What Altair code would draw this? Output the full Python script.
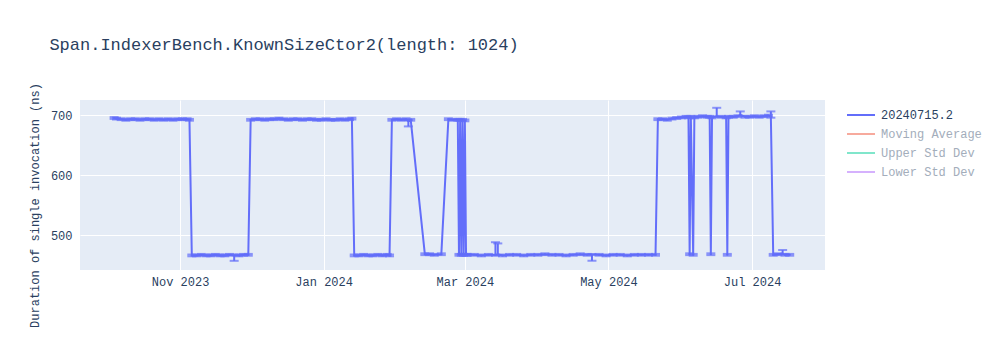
import altair as alt
import pandas as pd

series_name = "20240715.2"
legend_names = ["20240715.2", "Moving Average", "Upper Std Dev", "Lower Std Dev"]
legend_colors = ["#636efa", "#f7aa9d", "#80e6cb", "#d5b1fd"]

dates = [
    # high plateau Oct-Nov 2023
    "2023-10-04", "2023-10-05", "2023-10-07", "2023-10-09", "2023-10-11", "2023-10-13",
    "2023-10-15", "2023-10-17", "2023-10-19", "2023-10-21", "2023-10-23", "2023-10-25",
    "2023-10-27", "2023-10-29", "2023-10-31", "2023-11-02", "2023-11-04", "2023-11-05",
    # low Nov 2023
    "2023-11-06", "2023-11-08", "2023-11-10", "2023-11-12", "2023-11-14", "2023-11-16",
    "2023-11-18", "2023-11-20", "2023-11-22", "2023-11-24", "2023-11-26", "2023-11-28",
    "2023-11-30",
    # high Dec 2023 - Jan 2024
    "2023-12-01", "2023-12-03", "2023-12-05", "2023-12-07", "2023-12-09", "2023-12-11",
    "2023-12-13", "2023-12-15", "2023-12-17", "2023-12-19", "2023-12-21", "2023-12-23",
    "2023-12-25", "2023-12-27", "2023-12-29", "2023-12-31", "2024-01-02", "2024-01-04",
    "2024-01-06", "2024-01-08", "2024-01-10", "2024-01-12", "2024-01-13",
    # low Jan 2024
    "2024-01-14", "2024-01-16", "2024-01-18", "2024-01-20", "2024-01-22", "2024-01-24",
    "2024-01-26", "2024-01-28", "2024-01-29",
    # high early Feb
    "2024-01-30", "2024-02-01", "2024-02-03", "2024-02-05", "2024-02-06", "2024-02-07",
    # low mid Feb
    "2024-02-13", "2024-02-15", "2024-02-17", "2024-02-20",
    # high late Feb with oscillations
    "2024-02-23", "2024-02-25", "2024-02-27", "2024-02-27T12:00:00Z", "2024-02-28",
    "2024-02-28T12:00:00Z", "2024-02-29", "2024-02-29T12:00:00Z", "2024-03-01",
    "2024-03-01T12:00:00Z",
    # low Mar - May
    "2024-03-02", "2024-03-05", "2024-03-08", "2024-03-11", "2024-03-14", "2024-03-15",
    "2024-03-17", "2024-03-20", "2024-03-23", "2024-03-26", "2024-03-29", "2024-04-01",
    "2024-04-04", "2024-04-07", "2024-04-10", "2024-04-13", "2024-04-16", "2024-04-19",
    "2024-04-22", "2024-04-24", "2024-04-27", "2024-04-30", "2024-05-03", "2024-05-06",
    "2024-05-09", "2024-05-12", "2024-05-15", "2024-05-18", "2024-05-21",
    # high May - Jul with drops
    "2024-05-22", "2024-05-24", "2024-05-26", "2024-05-28", "2024-05-30", "2024-06-01",
    "2024-06-03", "2024-06-04", "2024-06-04T12:00:00Z", "2024-06-05", "2024-06-06",
    "2024-06-06T12:00:00Z", "2024-06-08", "2024-06-10", "2024-06-12", "2024-06-13",
    "2024-06-13T12:00:00Z", "2024-06-14", "2024-06-16", "2024-06-18", "2024-06-20",
    "2024-06-20T12:00:00Z", "2024-06-21", "2024-06-23", "2024-06-25", "2024-06-26",
    "2024-06-28", "2024-06-30", "2024-07-02", "2024-07-04", "2024-07-06", "2024-07-08",
    "2024-07-09",
    # low Jul
    "2024-07-10", "2024-07-12", "2024-07-14", "2024-07-15", "2024-07-17",
]

values = [
    695, 694, 693, 692, 693, 693, 692, 693, 693, 692, 693, 692, 693, 692, 693, 693, 693, 692,
    466, 466, 467, 466, 466, 467, 466, 466, 467, 466, 466, 467, 467,
    692, 693, 693, 692, 693, 693, 694, 693, 692, 693, 693, 692, 693, 693, 692, 692, 693, 692,
    692, 693, 692, 693, 694,
    466, 466, 467, 466, 466, 467, 466, 467, 466,
    692, 693, 692, 693, 690, 692,
    468, 468, 467, 468,
    693, 692, 692, 467, 692, 467, 692, 467, 691, 467,
    467, 467, 466, 467, 467, 468, 466, 467, 467, 466, 467, 467, 468, 467, 467, 466, 467, 468,
    467, 467, 467, 466, 467, 467, 466, 467, 467, 467, 467,
    693, 693, 692, 694, 695, 696, 697, 696, 468, 697, 467, 696, 697, 698, 697, 697, 468, 696,
    698, 697, 696, 467, 697, 697, 698, 700, 697, 697, 698, 697, 698, 699, 697,
    467, 468, 469, 467, 467,
]

# standard deviation (error bar half-lengths); typical spread is ~1.5 ns
typical_err = 1.5
err_up_special = {"2024-03-14": 21, "2024-03-15": 18, "2024-06-16": 14,
                  "2024-06-26": 6, "2024-07-09": 9, "2024-07-14": 6}
err_dn_special = {"2023-11-24": 9, "2024-02-06": 9, "2024-04-24": 10}

y_ticks = [500, 600, 700]

err_up = [err_up_special.get(d, typical_err) for d in dates]
err_dn = [err_dn_special.get(d, typical_err) for d in dates]

df = pd.DataFrame({
    "date": dates,
    "value": values,
    "hi": [v + e for v, e in zip(values, err_up)],
    "lo": [v - e for v, e in zip(values, err_dn)],
    "series": series_name,
})

FONT = "Liberation Mono"
TXT = "#2a3f5f"
LINE = "#636efa"

x_enc = alt.X(
    "date:T",
    scale=alt.Scale(type="utc",
                    domain=[alt.DateTime(year=2023, month=9, date=19, hours=12, utc=True),
                            alt.DateTime(year=2024, month=8, date=1, utc=True)]),
    axis=alt.Axis(
        values=[alt.DateTime(year=2023, month=11, date=1, utc=True),
                alt.DateTime(year=2024, month=1, date=1, utc=True),
                alt.DateTime(year=2024, month=3, date=1, utc=True),
                alt.DateTime(year=2024, month=5, date=1, utc=True),
                alt.DateTime(year=2024, month=7, date=1, utc=True)],
        labelExpr="utcFormat(datum.value, '%b %Y')", title=None,
    ),
)
y_scale = alt.Scale(domain=[441.7, 725], nice=False, zero=False)
y_axis = alt.Axis(values=y_ticks, title="Duration of single invocation (ns)", titleY=105)

base = alt.Chart(df)

line = base.mark_line(strokeWidth=2, clip=True).encode(
    x=x_enc,
    y=alt.Y("value:Q", scale=y_scale, axis=y_axis),
    color=alt.Color(
        "series:N",
        scale=alt.Scale(domain=legend_names, range=legend_colors),
        legend=alt.Legend(
            title=None, orient="none", legendX=773, legendY=7,
            symbolType="M-2,0L2,0", symbolSize=196, symbolStrokeWidth=2,
            symbolFillColor="transparent",
            labelFont=FONT, labelFontSize=12, labelOffset=12, rowPadding=5,
            labelColor=alt.ExprRef(expr="datum.label == '20240715.2' ? '#2a3f5f' : '#a3adbb'"),
        ),
    ),
)

rules = base.mark_rule(strokeWidth=2, color=LINE, clip=True).encode(
    x=x_enc, y=alt.Y("lo:Q", scale=y_scale), y2="hi:Q"
)
caps_hi = base.mark_tick(orient="horizontal", size=9, thickness=2, color=LINE, clip=True).encode(
    x=x_enc, y=alt.Y("hi:Q", scale=y_scale)
)
caps_lo = base.mark_tick(orient="horizontal", size=9, thickness=2, color=LINE, clip=True).encode(
    x=x_enc, y=alt.Y("lo:Q", scale=y_scale)
)

chart = (
    alt.layer(line, rules, caps_hi, caps_lo)
    .properties(
        width=745, height=170,
        title=alt.TitleParams(
            "Span.IndexerBench.KnownSizeCtor2(length: 1024)",
            anchor="start", dx=21, offset=16, baseline="alphabetic",
            font=FONT, fontSize=17, fontWeight="normal", color=TXT,
        ),
        autosize=alt.AutoSizeParams(type="none"),
        padding={"left": 80, "top": 100, "right": 175, "bottom": 80},
        background="white",
    )
    .configure_view(fill="#E5ECF6", stroke=None)
    .configure_axis(
        labelFont=FONT, labelFontSize=12, labelColor=TXT,
        titleFont=FONT, titleFontSize=12, titleColor=TXT, titleFontWeight="normal",
        grid=True, gridColor="white", gridWidth=1, domain=False, ticks=False,
        labelPadding=8,
    )
    .configure_axisY(titlePadding=9)
    .configure_axisX(labelPadding=6)
)

chart.save("out.html", embed_options={"renderer": "svg", "actions": False})
